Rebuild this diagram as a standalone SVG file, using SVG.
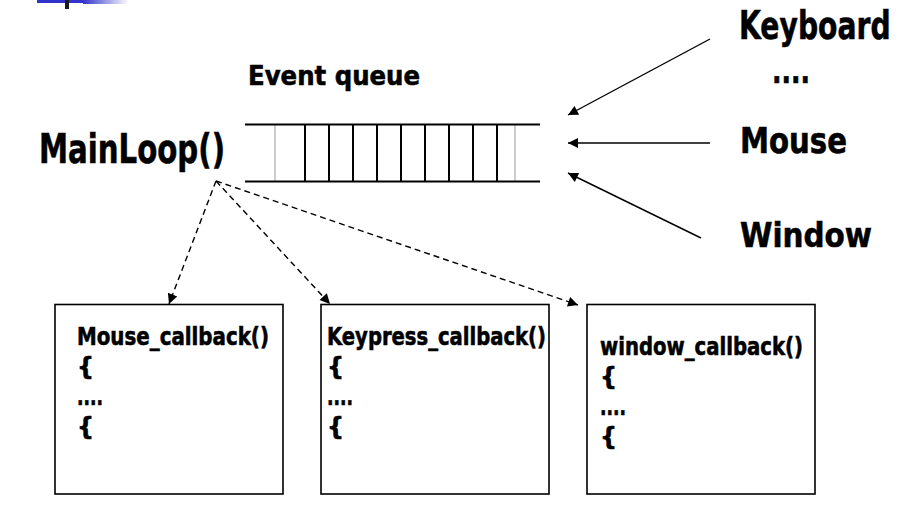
<svg xmlns="http://www.w3.org/2000/svg" width="910" height="516" viewBox="0 0 910 516">
<defs>
<style>
.t{font-family:"DejaVu Sans","Liberation Sans",sans-serif;font-weight:bold;fill:#000;stroke:#000;stroke-width:0.6}
.box{fill:#fff;stroke:#000;stroke-width:1.6}
.solid{stroke:#000;stroke-width:1.4;fill:none}
.dash{stroke:#000;stroke-width:1.4;fill:none;stroke-dasharray:6 4}
.q{stroke:#000;stroke-width:2}
.qv{stroke:#000;stroke-width:2}
</style>
<linearGradient id="fade" x1="0" y1="0" x2="1" y2="0">
<stop offset="0" stop-color="#3535cc"/>
<stop offset="1" stop-color="#ffffff"/>
</linearGradient>
<marker id="ah" viewBox="0 0 10 10" refX="10" refY="5" markerWidth="12" markerHeight="10" markerUnits="userSpaceOnUse" orient="auto">
<path d="M0,0 L10,5 L0,10 z" fill="#000"/>
</marker>
</defs>
<rect width="910" height="516" fill="#fff"/>
<g id="corner">
<rect x="37" y="0" width="46" height="3" fill="#3333cc"/>
<rect x="83" y="0" width="46" height="4" fill="url(#fade)"/>
<rect x="65" y="0" width="4" height="9" fill="#1a1a1a"/>
</g>
<g id="mainloop">
<text class="t" x="39" y="163" font-size="40" textLength="186" lengthAdjust="spacingAndGlyphs">MainLoop()</text>
</g>
<g id="queue">
<text class="t" x="248" y="85" font-size="27" textLength="172" lengthAdjust="spacingAndGlyphs">Event queue</text>
<rect x="275" y="124.5" width="240" height="57" fill="none" stroke="#999" stroke-width="1"/>
<line class="q" x1="245" y1="124.5" x2="540" y2="124.5"/>
<line class="q" x1="245" y1="181.5" x2="540" y2="181.5"/>
<g class="qv">
<line x1="305" y1="124.5" x2="305" y2="181.5"/>
<line x1="329" y1="124.5" x2="329" y2="181.5"/>
<line x1="353" y1="124.5" x2="353" y2="181.5"/>
<line x1="377" y1="124.5" x2="377" y2="181.5"/>
<line x1="401" y1="124.5" x2="401" y2="181.5"/>
<line x1="425" y1="124.5" x2="425" y2="181.5"/>
<line x1="449" y1="124.5" x2="449" y2="181.5"/>
<line x1="473" y1="124.5" x2="473" y2="181.5"/>
<line x1="497" y1="124.5" x2="497" y2="181.5"/>
</g>
</g>
<g id="keyboard">
<text class="t" x="0" y="0" font-size="39" transform="translate(739,39) scale(0.724,1)">Keyboard</text>
<text class="t" x="772" y="83" font-size="36" textLength="38" lengthAdjust="spacingAndGlyphs">....</text>
</g>
<g id="mouse">
<text class="t" x="740" y="153" font-size="36" textLength="107" lengthAdjust="spacingAndGlyphs">Mouse</text>
</g>
<g id="window">
<text class="t" x="740" y="247" font-size="34" textLength="132" lengthAdjust="spacingAndGlyphs">Window</text>
</g>
<g id="mouse_cb">
<rect class="box" x="55" y="304.5" width="228" height="189.5"/>
<text class="t" x="77" y="345" font-size="24" textLength="192" lengthAdjust="spacingAndGlyphs">Mouse_callback()</text>
<text class="t" x="77" y="375" font-size="24">{</text>
<text class="t" x="77" y="405" font-size="24" textLength="26" lengthAdjust="spacingAndGlyphs">....</text>
<text class="t" x="77" y="435" font-size="24">{</text>
</g>
<g id="keypress_cb">
<rect class="box" x="321" y="304.5" width="228" height="189.5"/>
<text class="t" x="327" y="345" font-size="24" textLength="219" lengthAdjust="spacingAndGlyphs">Keypress_callback()</text>
<text class="t" x="327" y="375" font-size="24">{</text>
<text class="t" x="327" y="405" font-size="24" textLength="26" lengthAdjust="spacingAndGlyphs">....</text>
<text class="t" x="327" y="435" font-size="24">{</text>
</g>
<g id="window_cb">
<rect class="box" x="587" y="304.5" width="228" height="189.5"/>
<text class="t" x="600" y="355" font-size="24" textLength="203" lengthAdjust="spacingAndGlyphs">window_callback()</text>
<text class="t" x="600" y="385" font-size="24">{</text>
<text class="t" x="600" y="415" font-size="24" textLength="26" lengthAdjust="spacingAndGlyphs">....</text>
<text class="t" x="600" y="445" font-size="24">{</text>
</g>
<g id="connectors">
<line class="solid" x1="710" y1="39" x2="568" y2="115" marker-end="url(#ah)"/>
<line class="solid" x1="710" y1="143" x2="568" y2="143" marker-end="url(#ah)"/>
<line class="solid" x1="701" y1="238" x2="568" y2="173" marker-end="url(#ah)"/>
<line class="dash" x1="216" y1="181" x2="169" y2="304" marker-end="url(#ah)"/>
<line class="dash" x1="216" y1="181" x2="330" y2="304" marker-end="url(#ah)"/>
<line class="dash" x1="216" y1="181" x2="578" y2="305" marker-end="url(#ah)"/>
</g>
</svg>
